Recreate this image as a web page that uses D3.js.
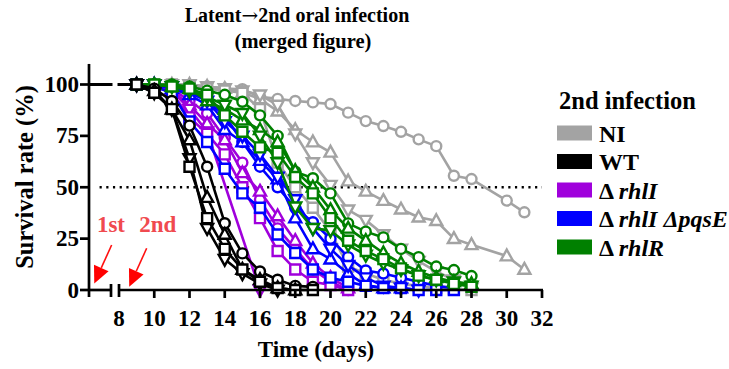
<!DOCTYPE html>
<html><head><meta charset="utf-8">
<script src="https://cdn.jsdelivr.net/npm/d3@7"></script>
<style>
html,body{margin:0;padding:0;background:#fff;}
svg{display:block;font-family:"Liberation Serif","Times New Roman",serif;font-weight:bold;}
</style></head>
<body><svg id="c" width="729" height="369"></svg>
<script>
// ---------- data ----------
const days = [9,10,11,12,13,14,15,16,17,18,19,20,21,22,23,24,25,26,27,28,29,30,31];
const groupNames = ["NI","WT","\u0394 rhlI","\u0394 rhlI \u0394pqsE","\u0394 rhlR"];
const groupColors = ["#a3a3a3","#000000","#a000dc","#0000ff","#008000"];
const xTicks = [8,10,12,14,16,18,20,22,24,26,28,30,32];
const yTicks = [0,25,50,75,100];
const startDay = 6.25;          // left end of the broken axis
const breakDays = [7.5, 8];     // axis break

// replicate curves: circle, triangle, inverted triangle, square (values aligned with `days`)
const NI_circle   = [100,100,100,99,99,98,97.7,94,93,92,91.3,90.5,86.3,82.2,79.8,77,73.3,70,55.6,54,null,43.5,37.8];
const NI_triangle = [100,100,100,100,99,98,96,93,87,78,72,67,53,48,43.5,39.3,35.4,33.7,25,22,null,16.5,10];
const NI_tridown  = [100,100,100,100,99,98,97,95,90,76,62,51,39,34,27,20,14,9,5,1,null,null,null];
const NI_square   = [100,100,100,99,98,97,96,88,62,50,40,28.4,11.4,8,5,3,2,1,0.5,0,null,null,null];

const WT_circle   = [100,98,92,80,60,32.5,17.8,9,5,2,1.5];
const WT_triangle = [100,97,88,73,45,27,10,5,1,0];
const WT_tridown  = [100,96,88,64,30,15,8,3,0];
const WT_square   = [100,96,88,60,35,20,10,4,1,0,0];

const rhlI_circle   = [100,100,98,92,86,74,62,44,30,20,10,4,0];
const rhlI_triangle = [100,100,97,90,81,73,57,48,36,24,13,6,1];
const rhlI_tridown  = [100,100,97,88,77,null,null,0];
const rhlI_square   = [100,99,96,84,76,66,50,35,19,10,4,2.4,0];

const pqsE_circle   = [100,100,99,97,92,85,72,60,50,40,33,25,16,9.5,8,6,4,2,1];
const pqsE_triangle = [100,100,98,95,90,78,72,63,54,35,20,15,8,2.4,1,1];
const pqsE_tridown  = [100,100,99,96,92,82,75,66,55,44,30,20,12,6,2,1,0];
const pqsE_square   = [100,99,96,82,72,59,47,40,27,18,10,6,4,2,1,1,0,0,0];

const rhlR_circle   = [100,100,100,99,97,95,91.6,85,75,57.6,54.4,47,32.4,28.4,25.6,20,16,11.4,9.7,6.8];
const rhlR_triangle = [100,100,99,98,92,88,82.7,78,72,58,50,39,30,24,18,13,9,6,4,3];
const rhlR_tridown  = [100,100,99,97,94,90,86,75,62,40.5,30,29,22,17,13,10,7,5,4,2];
const rhlR_square   = [100,100,99,98,95,85,77,69.4,66.8,55,47,35,24,19,15,10.5,7,5,3,1.6];

const groupSeries = [
  [NI_circle, NI_triangle, NI_tridown, NI_square],
  [WT_circle, WT_triangle, WT_tridown, WT_square],
  [rhlI_circle, rhlI_triangle, rhlI_tridown, rhlI_square],
  [pqsE_circle, pqsE_triangle, pqsE_tridown, pqsE_square],
  [rhlR_circle, rhlR_triangle, rhlR_tridown, rhlR_square]
];
const markerTypes = ["circle","triangle","tridown","square"];
const drawOrder = [0,2,3,4,1];

// annotations (data units)
const annLabels = ["1st","2nd"];
const annLabelDay = [6.7, 9.15];
const annTail = [[7.54,21.9],[9.57,20.3]];
const annTip  = [[6.55,3.2],[8.58,1.6]];

// ---------- scales ----------
const svg = d3.select("#c");
const x = d3.scaleLinear().domain([startDay, breakDays[0], breakDays[1], 32]).range([89, 111, 119, 542]);
const y = d3.scaleLinear().domain([0, 100]).range([290, 84.5]);
const AX = "#000";

// dotted 50% line
svg.append("line").attr("x1", x(6.85)).attr("x2", x(32)).attr("y1", y(50)).attr("y2", y(50))
  .attr("stroke", "#000").attr("stroke-width", 2.6).attr("stroke-dasharray", "2.2,4.5");

// marker shapes
function markerPath(t){
  if(t==="circle") return d3.symbol().type(d3.symbolCircle).size(Math.PI*5*5)();
  if(t==="square") return "M-5,-5H5V5H-5Z";
  if(t==="triangle") return "M0,-6.5L6,4.3L-6,4.3Z";
  return "M0,6.5L6,-4.3L-6,-4.3Z";
}

const line = d3.line().x(d=>x(d[0])).y(d=>y(d[1]));
const plot = svg.append("g");
drawOrder.forEach(gi=>{
  const col = groupColors[gi];
  const g = plot.append("g");
  groupSeries[gi].forEach((vals, si)=>{
    const pts = [];
    vals.forEach((v,i)=>{ if(v!==null && v!==undefined) pts.push([days[i], v]); });
    const full = [[startDay, 100]].concat(pts);
    g.append("path").attr("d", line(full)).attr("fill","none").attr("stroke", col)
      .attr("stroke-width", 2.6).attr("stroke-linejoin","round");
    g.selectAll(null).data(pts).enter().append("path")
      .attr("transform", d=>`translate(${x(d[0])},${y(d[1])})`)
      .attr("d", markerPath(markerTypes[si]))
      .attr("fill","#fff").attr("stroke", col).attr("stroke-width", 2.4);
  });
});

// break gap mask over the lines
svg.append("rect").attr("x", x(breakDays[0])+1.5).attr("y", y(100)-4)
  .attr("width", x(breakDays[1])-x(breakDays[0])-3).attr("height", 8).attr("fill","#fff");

// ---------- axes ----------
const axes = svg.append("g").attr("stroke", AX).attr("stroke-width", 2.7).attr("fill","none");
axes.append("line").attr("x1", x(startDay)).attr("x2", x(startDay)).attr("y1", y(110)).attr("y2", y(0)+7);
axes.append("line").attr("x1", x(startDay)).attr("x2", x(breakDays[0])+1).attr("y1", y(0)).attr("y2", y(0));
axes.append("line").attr("x1", x(breakDays[1])-1).attr("x2", x(32)+1).attr("y1", y(0)).attr("y2", y(0));
breakDays.forEach(d=>{
  axes.append("line").attr("x1", x(d)).attr("x2", x(d)).attr("y1", y(0)-6).attr("y2", y(0)+7);
});
xTicks.filter(t=>t>8).forEach(t=>{
  axes.append("line").attr("x1", x(t)).attr("x2", x(t)).attr("y1", y(0)).attr("y2", y(0)+8);
});
yTicks.forEach(t=>{
  axes.append("line").attr("x1", x(startDay)-9).attr("x2", x(startDay)).attr("y1", y(t)).attr("y2", y(t));
});

// tick labels
svg.append("g").selectAll("text").data(xTicks).enter().append("text")
  .attr("x", d=>x(d)).attr("y", 326).attr("text-anchor","middle")
  .attr("font-size", 23).text(d=>d);
svg.append("g").selectAll("text").data(yTicks).enter().append("text")
  .attr("x", 79).attr("y", d=>y(d)+7.5).attr("text-anchor","end")
  .attr("font-size", 23).text(d=>d);

// axis titles
svg.append("text").attr("x", 316).attr("y", 357).attr("text-anchor","middle")
  .attr("font-size", 23).text("Time (days)");
svg.append("text").attr("transform","translate(33,177) rotate(-90)").attr("text-anchor","middle")
  .attr("font-size", 24.5).text("Survival rate (%)");

// title
const t1 = svg.append("text").attr("x", 297).attr("y", 22).attr("text-anchor","middle").attr("font-size", 20);
t1.append("tspan").text("Latent");
t1.append("tspan").attr("font-family","DejaVu Serif").attr("font-weight","normal").text("\u2192");
t1.append("tspan").text("2nd oral infection");
svg.append("text").attr("x", 303).attr("y", 48).attr("text-anchor","middle").attr("font-size", 20.5)
  .text("(merged figure)");

// annotations
const ann = svg.append("g");
annLabels.forEach((lab,i)=>{
  ann.append("text").attr("x", x(annLabelDay[i])).attr("y", 232).attr("fill","#f04a4f")
    .attr("font-size", 23).text(lab);
  const [tx,ty] = [x(annTip[i][0]), y(annTip[i][1])];
  const [sx,sy] = [x(annTail[i][0]), y(annTail[i][1])];
  const ang = Math.atan2(ty-sy, tx-sx);
  const L = 17, W = 8;
  const bx = tx - L*Math.cos(ang), by = ty - L*Math.sin(ang);
  ann.append("line").attr("x1", sx).attr("y1", sy).attr("x2", bx).attr("y2", by)
    .attr("stroke","#ff1010").attr("stroke-width", 1.6);
  const px = -Math.sin(ang)*W, py = Math.cos(ang)*W;
  ann.append("path").attr("d", `M${tx},${ty}L${bx+px},${by+py}L${bx-px},${by-py}Z`).attr("fill","#ff0000");
});

// legend
const leg = svg.append("g");
leg.append("text").attr("x", 559).attr("y", 109).attr("font-size", 24.5).text("2nd infection");
const legItems = [
  [["NI", false]],
  [["WT", false]],
  [["\u0394 ", false], ["rhlI", true]],
  [["\u0394 ", false], ["rhlI \u0394pqsE", true]],
  [["\u0394 ", false], ["rhlR", true]]
];
legItems.forEach((parts,i)=>{
  const cy = 133 + i*28.5;
  leg.append("rect").attr("x", 557).attr("y", cy-7.5).attr("width", 35).attr("height", 15)
    .attr("fill", groupColors[i]);
  const t = leg.append("text").attr("x", 599).attr("y", cy+8.5).attr("font-size", 24);
  parts.forEach(p=>{
    t.append("tspan").attr("font-style", p[1] ? "italic" : "normal").text(p[0]);
  });
});
</script></body></html>
